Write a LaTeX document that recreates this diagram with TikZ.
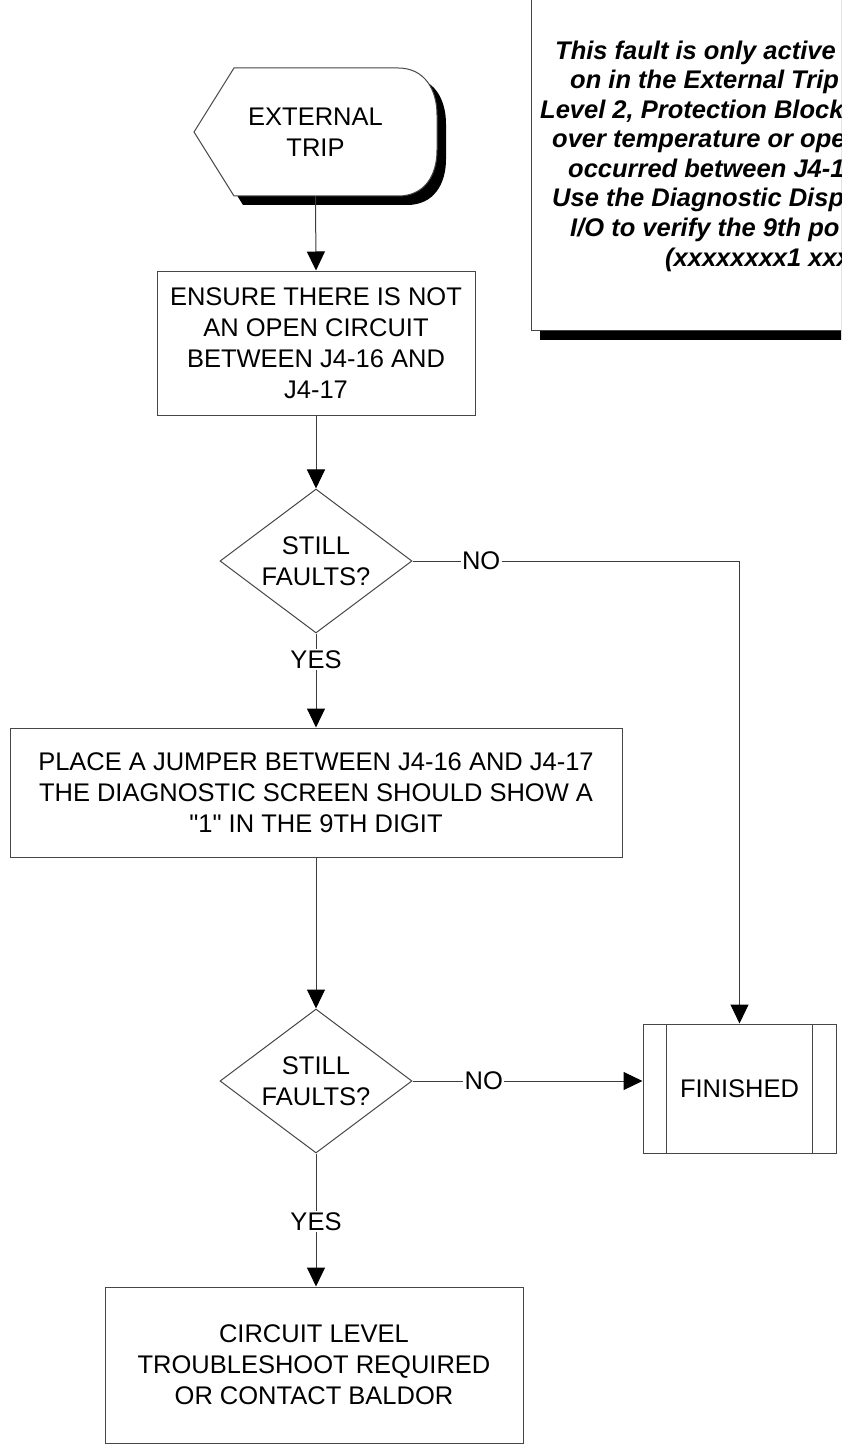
\documentclass[tikz,border=0pt]{standalone}
\usepackage{fontspec}
\setmainfont{Liberation Sans}[Ligatures=TeXOff]
\usepackage{tikz}
\usetikzlibrary{shapes.geometric, arrows.meta}
\definecolor{LineGray}{RGB}{60,60,60}
\definecolor{BoxGray}{RGB}{70,70,70}

\begin{document}
\begin{tikzpicture}[x=1pt, y=-1pt,
    txt/.style={font=\fontsize{25.5}{31}\selectfont},
    box/.style={txt, draw=BoxGray, fill=white, line width=1pt, align=center, inner sep=0pt},
    decision/.style={box, diamond, aspect=1.333, minimum width=192pt, minimum height=144pt},
    flow/.style={draw=LineGray, line width=1pt, -{Triangle[length=19pt, width=18pt, color=black]}},
    lbl/.style={txt, fill=white, inner sep=1.5pt}]

  % Page
  \useasboundingbox (0,0) rectangle (841,1447);
  \clip (0,0) rectangle (841,1447);

  % Note box and shadow
  \fill[black] (540,-20) rectangle (900,340);
  \draw[BoxGray, fill=white, line width=1pt] (531,-30) rectangle (890,330);
  \foreach \i/\x/\y/\t in {1/555/59.5/{This fault is only active},
                           2/570/89/{on in the External Trip},
                           3/540/118.5/{Level 2, Protection Block},
                           4/552/148/{over temperature or ope},
                           5/568/177.5/{occurred between J4-1},
                           6/552/207/{Use the Diagnostic Disp},
                           7/570/236.5/{I/O to verify the 9th po},
                           8/665/266/{(xxxxxxxx1 xxx}} {
    \node[anchor=base west, inner sep=0pt, font=\fontsize{25.5}{29.5}\selectfont\bfseries\itshape] (note\i) at (\x,\y) {\t};
  }

  % Start shape and shadow
  \fill[black, shift={(9,9)}] (194,132) -- (234,68) -- (398,68)
    .. controls (425,68) and (437,90) .. (437,115) -- (437,150)
    .. controls (437,175) and (425,196) .. (398,196) -- (234,196) -- cycle;
  \draw[BoxGray, fill=white, line width=1pt] (194,132) -- (234,68) -- (398,68)
    .. controls (425,68) and (437,90) .. (437,115) -- (437,150)
    .. controls (437,175) and (425,196) .. (398,196) -- (234,196) -- cycle;
  \node[txt, align=center, minimum width=243pt, minimum height=128pt, inner sep=0pt] (trip) at (315.5,132) {EXTERNAL\\TRIP};

  % Steps
  \node[box, minimum width=318pt, minimum height=144pt] (ensure) at (316,343)
    {ENSURE THERE IS NOT\\AN OPEN CIRCUIT\\BETWEEN J4-16 AND\\J4-17};
  \node[decision] (still1) at (316,561) {STILL\\FAULTS?};
  \node[box, minimum width=612pt, minimum height=129pt] (jumper) at (316,792.5)
    {PLACE A JUMPER BETWEEN J4-16 AND J4-17\\THE DIAGNOSTIC SCREEN SHOULD SHOW A\\"1" IN THE 9TH DIGIT};
  \node[decision] (still2) at (316,1081) {STILL\\FAULTS?};
  \node[box, minimum width=193pt, minimum height=129pt] (finished) at (739.5,1088.5) {FINISHED};
  \draw[BoxGray, line width=1pt] ([xshift=24pt]finished.north west) -- ([xshift=24pt]finished.south west)
    ([xshift=-24pt]finished.north east) -- ([xshift=-24pt]finished.south east);
  \node[box, minimum width=418pt, minimum height=156pt] (baldor) at (314,1365)
    {CIRCUIT LEVEL\\TROUBLESHOOT REQUIRED\\OR CONTACT BALDOR};

  % Connectors
  \draw[flow] (trip.south) -- (ensure.north);
  \draw[flow] (ensure) -- (still1);
  \draw[flow] (still1.east) -- node[lbl, pos=0.21] {NO} (still1.east -| finished.north) -- (finished.north);
  \draw[flow] (still1.south) -- node[lbl, pos=0.28] {YES} (still1.south |- jumper.north);
  \draw[flow] (jumper.south -| still2.north) -- (still2.north);
  \draw[flow] (still2.east) -- node[lbl, pos=0.31] {NO} (still2.east -| finished.west);
  \draw[flow] (still2.south) -- node[lbl, pos=0.51] {YES} (still2.south |- baldor.north);
\end{tikzpicture}
\end{document}
